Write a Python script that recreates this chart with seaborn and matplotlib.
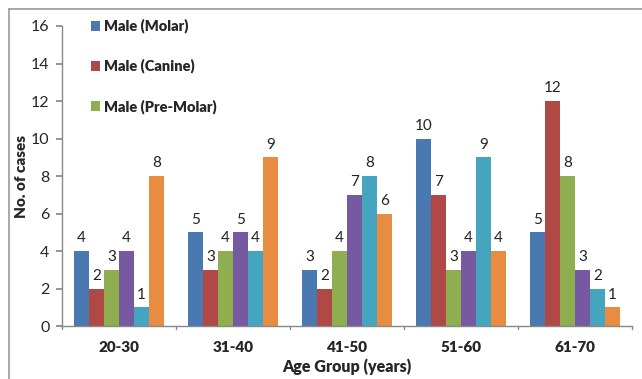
import matplotlib
matplotlib.use("Agg")
import matplotlib.pyplot as plt
from matplotlib.lines import Line2D
from matplotlib.patches import Patch
import seaborn as sns
import pandas as pd

age_groups = ["20-30", "31-40", "41-50", "51-60", "61-70"]
series_names = ["Male (Molar)", "Male (Canine)", "Male (Pre-Molar)",
                "Female (Molar)", "Female (Canine)", "Female (Pre-Molar)"]
male_molar = [4, 5, 3, 10, 5]
male_canine = [2, 3, 2, 7, 12]
male_premolar = [3, 4, 4, 3, 8]
female_molar = [4, 5, 7, 4, 3]
female_canine = [1, 4, 8, 9, 2]
female_premolar = [8, 9, 6, 4, 1]
colors = ["#4A78B0", "#B04845", "#8FAE50", "#7659A0", "#45A5BF", "#E88C42"]

values = [male_molar, male_canine, male_premolar,
          female_molar, female_canine, female_premolar]
rows = []
for name, vals in zip(series_names, values):
    for grp, v in zip(age_groups, vals):
        rows.append({"Age Group": grp, "Series": name, "Cases": v})
df = pd.DataFrame(rows)

sns.set_theme(style="white")
plt.rcParams["font.family"] = ["Lato", "DejaVu Sans"]

fig = plt.figure(figsize=(6.42, 3.79), dpi=100)
ax = fig.add_axes([0.0966, 0.1398, 0.8878, 0.7916])

sns.barplot(data=df, x="Age Group", y="Cases", hue="Series",
            order=age_groups, hue_order=series_names,
            palette=colors, saturation=1, width=0.79, gap=0,
            linewidth=0, edgecolor="none",
            legend=False, ax=ax)

for cont in ax.containers:
    ax.bar_label(cont, padding=4, fontsize=11, color="#222222")

ax.set_ylim(0, 16)
ax.set_yticks(range(0, 17, 2))
ax.set_xlim(-0.5, len(age_groups) - 0.5)
ax.set_xticks(range(len(age_groups)))
ax.set_xticklabels(age_groups, fontsize=11, fontweight="heavy")
ax.tick_params(axis="x", length=0, pad=11)
ax.tick_params(axis="y", labelsize=11.5, length=4, direction="out",
               color="#888888", left=True, pad=5)
for b in [i + 0.5 for i in range(-1, len(age_groups))]:
    ax.plot([b, b], [0, -0.011], transform=ax.get_xaxis_transform(),
            color="#888888", lw=1, clip_on=False)

for side in ["top", "right"]:
    ax.spines[side].set_visible(False)
for side in ["left", "bottom"]:
    ax.spines[side].set_color("#888888")
    ax.spines[side].set_linewidth(1)

ax.set_ylabel("No. of cases", fontsize=11, fontweight="heavy", labelpad=2)
ax.set_xlabel("Age Group (years)", fontsize=11.5, fontweight="heavy", labelpad=3)

handles = [Patch(facecolor=c, edgecolor="none") for c in colors[:3]]
ax.legend(handles, series_names[:3], loc="upper left",
          bbox_to_anchor=(0.027, 1.068), frameon=False,
          prop={"weight": "heavy", "size": 10.5},
          handlelength=0.65, handleheight=0.65, handletextpad=0.3,
          labelspacing=1.75)

# outer frame of the chart area
fig.add_artist(Line2D([9 / 642, 1], [1 - 9 / 379, 1 - 9 / 379],
                      transform=fig.transFigure, color="#999999", lw=1.2))
fig.add_artist(Line2D([9 / 642, 9 / 642], [0, 1 - 9 / 379],
                      transform=fig.transFigure, color="#999999", lw=1.2))

fig.savefig("out.png", dpi=100)
